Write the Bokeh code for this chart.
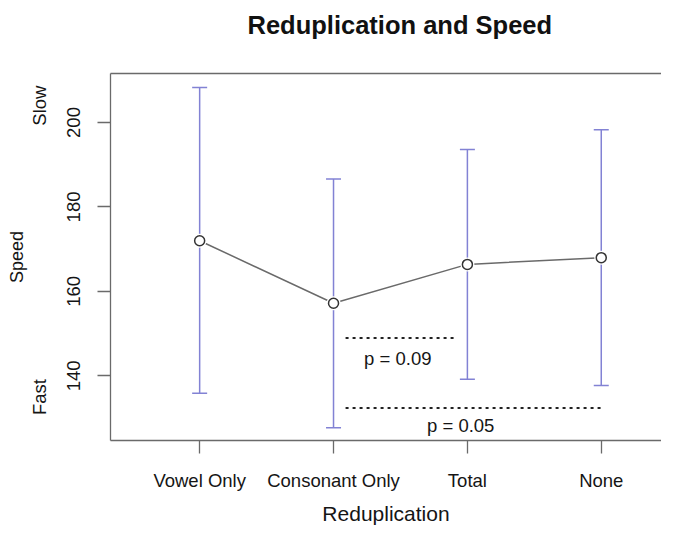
from bokeh.plotting import figure
from bokeh.models import ColumnDataSource, Whisker, TeeHead, FixedTicker, LinearAxis, Range1d
from bokeh.embed import file_html
from bokeh.resources import INLINE
from bokeh.core.properties import value

# ---- data ----
categories = ["Vowel Only", "Consonant Only", "Total", "None"]
speed_mean = [172.0, 157.2, 166.4, 168.0]
speed_upper = [208.3, 186.6, 193.6, 198.3]
speed_lower = [135.9, 127.7, 139.2, 137.7]
y_ticks = [140, 160, 180, 200]
y_end_labels = ["Slow", "Fast"]
y_end_positions = [204, 135]
sig_labels = ["p = 0.09", "p = 0.05"]
sig_x0 = [2.09, 2.09]
sig_x1 = [2.90, 4.02]
sig_y = [149.0, 132.4]
sig_label_x = [2.48, 2.95]
sig_label_y = [144.1, 128.3]

x_pos = list(range(1, len(categories) + 1))

FONT = "Liberation Sans"
TXT = "#151515"
BOX = "#6a6a6a"
BAR = "#8282d4"

p = figure(width=661, height=527, output_backend="svg", toolbar_location=None,
           x_range=Range1d(0.334, 4.45), y_range=Range1d(124.7, 211.6),
           min_border_left=110, min_border_right=0, min_border_top=73, min_border_bottom=87,
           title="Reduplication and Speed")
p.background_fill_color = "white"
p.border_fill_color = "white"
p.outline_line_color = None
p.xgrid.visible = False
p.ygrid.visible = False

p.title.text_font = FONT
p.title.text_font_size = "25.5px"
p.title.text_font_style = "bold"
p.title.text_color = "#111111"
p.title.align = "left"
p.title.offset = 137
p.title.standoff = 10
p.title.padding = dict(left=0, right=0, top=0, bottom=30)

def style_axis(ax):
    ax.axis_line_color = BOX
    ax.axis_line_width = 1.3
    ax.major_tick_line_color = BOX
    ax.major_tick_line_width = 1.3
    ax.major_tick_in = 0
    ax.minor_tick_line_color = None
    ax.major_label_text_font = FONT
    ax.major_label_text_font_size = "18.5px"
    ax.major_label_text_color = TXT
    ax.axis_label_text_font = FONT
    ax.axis_label_text_font_style = "normal"
    ax.axis_label_text_color = TXT

# y axis (main)
ya = p.yaxis[0]
style_axis(ya)
ya.ticker = FixedTicker(ticks=y_ticks)
ya.major_tick_out = 13
ya.major_label_orientation = "vertical"
ya.major_label_standoff = 17
ya.axis_label = None

# outer left axis carrying Slow / Fast and the axis title
ya2 = LinearAxis(ticker=FixedTicker(ticks=y_end_positions),
                 major_label_overrides={v: k for k, v in zip(y_end_labels, y_end_positions)})
style_axis(ya2)
ya2.axis_line_color = None
ya2.major_tick_line_color = None
ya2.major_tick_out = 0
ya2.major_label_orientation = "vertical"
ya2.major_label_standoff = 14
ya2.axis_label = "Speed"
ya2.axis_label_text_font_size = "18px"
ya2.axis_label_standoff = 0
p.add_layout(ya2, "left")

# x axis
xa = p.xaxis[0]
style_axis(xa)
xa.ticker = FixedTicker(ticks=x_pos)
xa.major_label_overrides = {x: c for x, c in zip(x_pos, categories)}
xa.major_tick_out = 13
xa.major_label_standoff = 16
xa.axis_label = "Reduplication"
xa.axis_label_text_font_size = "21px"
xa.axis_label_standoff = 8

# top border
top = LinearAxis(ticker=FixedTicker(ticks=[]))
style_axis(top)
top.major_tick_out = 0
top.major_label_text_font_size = "0px"
top.major_label_standoff = 0
p.add_layout(top, "above")

src = ColumnDataSource(dict(x=x_pos, mean=speed_mean, upper=speed_upper, lower=speed_lower))

wh = Whisker(source=src, base="x", upper="upper", lower="lower", dimension="height",
             line_color=BAR, line_width=1.5, level="underlay",
             upper_head=TeeHead(size=15, line_color=BAR, line_width=1.5),
             lower_head=TeeHead(size=15, line_color=BAR, line_width=1.5))
p.add_layout(wh)

p.line("x", "mean", source=src, line_color="#6a6a6a", line_width=1.5)
p.scatter("x", "mean", source=src, size=14, fill_color="white", line_color=None)
p.scatter("x", "mean", source=src, size=10, fill_color="white", line_color="#333333", line_width=1.5)

p.segment(x0=sig_x0, y0=sig_y, x1=sig_x1, y1=sig_y, line_dash="3 4", line_width=2, line_color="#222222")
p.text(x=sig_label_x, y=sig_label_y, text=sig_labels, text_align="center", text_baseline="middle",
       text_font=value(FONT), text_font_size="18.5px", text_color=TXT)

with open("out.html", "w") as f:
    f.write(file_html(p, INLINE, title="Reduplication and Speed"))
